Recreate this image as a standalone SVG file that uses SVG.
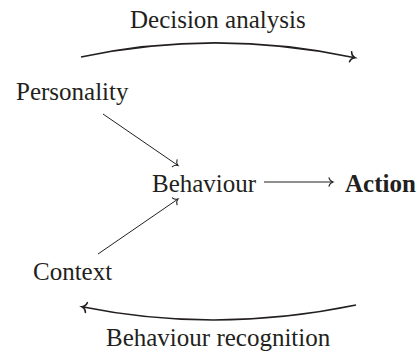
<svg xmlns="http://www.w3.org/2000/svg" width="417" height="352" viewBox="0 0 417 352">
<style>
text{font-family:"Liberation Serif","Times New Roman",serif;font-size:25px;fill:#231f20}
.b{font-weight:bold}
.c{fill:none;stroke:#231f20}
.thin{stroke-width:1}
.thick{stroke-width:1.6}
</style>
<defs>
<marker id="ah" markerUnits="userSpaceOnUse" markerWidth="14" markerHeight="14" refX="0" refY="0" viewBox="-8 -7 10 14" orient="auto" overflow="visible">
<path d="M-4,-4.2 C-3.4,-1.8 -1.2,-0.4 0,0 C-1.2,0.4 -3.4,1.8 -4,4.2" fill="none" stroke="#231f20" stroke-width="1.1" stroke-linecap="round"/>
</marker>
<marker id="ahb" markerUnits="userSpaceOnUse" markerWidth="14" markerHeight="14" refX="0" refY="0" viewBox="-8 -7 10 14" orient="auto" overflow="visible">
<path d="M-4.5,-5 C-3.8,-2 -1.4,-0.4 0,0 C-1.4,0.4 -3.8,2 -4.5,5" fill="none" stroke="#231f20" stroke-width="1.6" stroke-linecap="round"/>
</marker>
</defs>
<g id="connectors">
<path class="c thick" d="M81,57 Q216,28.5 355,57.7" marker-end="url(#ahb)"/>
<path class="c thick" d="M356,305 Q216,334 82,306.7" marker-end="url(#ahb)"/>
<line class="c thin" x1="103" y1="114" x2="178" y2="165.5" marker-end="url(#ah)"/>
<line class="c thin" x1="98" y1="254" x2="178" y2="199" marker-end="url(#ah)"/>
<line class="c thin" x1="264" y1="182" x2="333" y2="182" marker-end="url(#ah)"/>
</g>
<g id="decision-analysis"><text x="130" y="28">Decision analysis</text></g>
<g id="personality"><text x="16" y="100">Personality</text></g>
<g id="behaviour"><text x="152" y="192">Behaviour</text></g>
<g id="action"><text class="b" x="345" y="192">Action</text></g>
<g id="context"><text x="33" y="280">Context</text></g>
<g id="behaviour-recognition"><text x="106" y="346">Behaviour recognition</text></g>
</svg>
